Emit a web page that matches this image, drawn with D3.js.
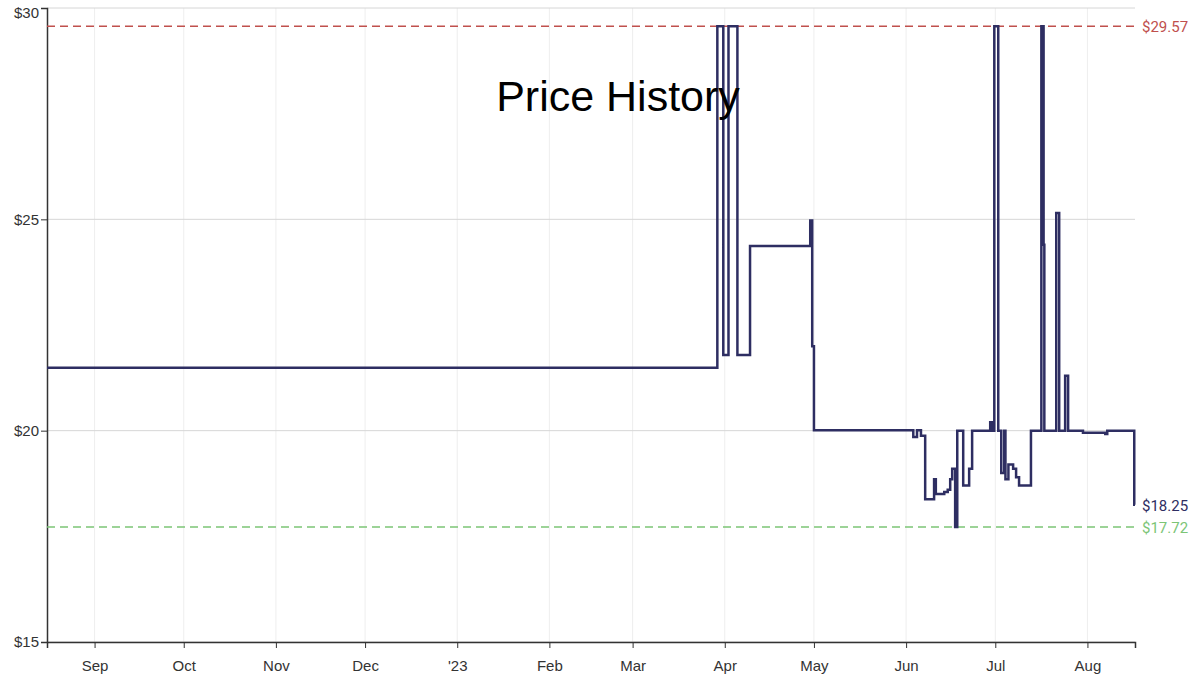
<!DOCTYPE html>
<html lang="en">
<head>
<meta charset="utf-8">
<script src="https://d3js.org/d3.v7.min.js"></script>
<style>body{margin:0;background:#fff}</style>
</head>
<body>
<script>
var priceDates = ["2022-08-16","2023-03-29T12","2023-03-31T12","2023-04-02T06","2023-04-05T06","2023-04-09T12",
  "2023-04-29T18","2023-04-30T10","2023-05-01","2023-06-03T10","2023-06-04T16","2023-06-06","2023-06-07T10",
  "2023-06-10T10","2023-06-11","2023-06-13T20","2023-06-15","2023-06-15T20","2023-06-16T12","2023-06-17T12",
  "2023-06-18T05","2023-06-20T05","2023-06-22T05","2023-06-23T05","2023-06-29T07","2023-06-30","2023-06-30T16",
  "2023-07-02","2023-07-03","2023-07-04","2023-07-04T10","2023-07-05T10","2023-07-07","2023-07-08","2023-07-09",
  "2023-07-13","2023-07-16T12","2023-07-17T06","2023-07-17T12","2023-07-21T12","2023-07-22T12","2023-07-24T12",
  "2023-07-25T12","2023-07-30T12","2023-08-07","2023-08-07T16","2023-08-16T18","2023-08-17"];
var priceValues = [21.49,29.57,21.79,29.57,21.79,24.37,24.97,22.0,20.01,19.85,20.01,19.88,18.38,
  18.85,18.5,18.55,18.6,18.85,19.1,17.72,20.0,18.7,19.1,20.0,20.2,20.0,29.57,
  20.0,19.0,20.0,18.85,19.2,19.1,18.9,18.7,
  20.0,29.57,24.4,20.0,25.15,20.0,21.3,
  20.0,19.95,19.92,20.0,18.25,18.25];
var yTicks = [15, 20, 25, 30];
var maxPrice = 29.57, minPrice = 17.72, lastPrice = 18.25;

var W = 1200, H = 681;
var m = {left: 47, right: 65, top: 8, bottom: 39};
var parse = d3.isoParse;
var data = priceDates.map(function(d, i){ return {date: parse(d.length > 10 ? d + ":00" : d), price: priceValues[i]}; });

var svg = d3.select("body").append("svg").attr("width", W).attr("height", H)
  .style("font-family", "Roboto, sans-serif");

var x = d3.scaleTime().domain([new Date(2022,7,16), new Date(2023,7,17)]).range([m.left, W - m.right]);
var y = d3.scaleLinear().domain([15, 30]).range([H - m.bottom, m.top]);

// grid
svg.append("g").selectAll("line").data(x.ticks(d3.timeMonth.every(1))).enter().append("line")
  .attr("x1", function(d){ return x(d); }).attr("x2", function(d){ return x(d); })
  .attr("y1", m.top).attr("y2", H - m.bottom).attr("stroke", "#eeeeee");
svg.append("g").selectAll("line").data(yTicks).enter().append("line")
  .attr("x1", m.left).attr("x2", W - m.right)
  .attr("y1", function(d){ return y(d); }).attr("y2", function(d){ return y(d); })
  .attr("stroke", "#d6d6d6");

// axes
var fmt = function(d){ return d.getMonth() === 0 ? "'" + d3.timeFormat("%y")(d) : d3.timeFormat("%b")(d); };
var xa = svg.append("g").attr("transform", "translate(0," + (H - m.bottom) + ")")
  .call(d3.axisBottom(x).ticks(d3.timeMonth.every(1)).tickFormat(fmt).tickSize(6).tickPadding(12));
var ya = svg.append("g").attr("transform", "translate(" + m.left + ",0)")
  .call(d3.axisLeft(y).tickValues(yTicks).tickFormat(function(d){ return "$" + d; }).tickSize(6).tickPadding(2));
[xa, ya].forEach(function(a){
  a.selectAll("text").style("font-size", "15px").attr("fill", "#333");
  a.selectAll("line").attr("stroke", "#333");
  a.select(".domain").attr("stroke", "#333").attr("stroke-width", 1.5);
});
ya.selectAll(".tick text").filter(function(d){ return d === 30; }).attr("dy", "0.6em");

// reference lines
[[maxPrice, "#c0504d"], [minPrice, "#7cc576"]].forEach(function(r){
  svg.append("line").attr("x1", m.left).attr("x2", W - m.right)
    .attr("y1", y(r[0])).attr("y2", y(r[0]))
    .attr("stroke", r[1]).attr("stroke-width", 1.5).attr("stroke-dasharray", "8,5");
  svg.append("text").attr("x", W - m.right + 7).attr("y", y(r[0]) + 1).attr("dy", "0.35em")
    .attr("fill", r[1]).style("font-size", "15px").text("$" + r[0].toFixed(2));
});
svg.append("text").attr("x", W - m.right + 7).attr("y", y(lastPrice) + 1).attr("dy", "0.35em")
  .attr("fill", "#2e2e62").style("font-size", "15px").text("$" + lastPrice.toFixed(2));

// price line
svg.append("path").datum(data)
  .attr("d", d3.line().curve(d3.curveStepAfter).x(function(d){ return x(d.date); }).y(function(d){ return y(d.price); }))
  .attr("fill", "none").attr("stroke", "#2e2e62").attr("stroke-width", 2.5);

// title
svg.append("text").attr("x", 618).attr("y", 111).attr("text-anchor", "middle")
  .style("font-family", "'Liberation Sans', Arial, sans-serif").style("font-size", "43px").attr("fill", "#000")
  .text("Price History");
</script>
</body>
</html>
